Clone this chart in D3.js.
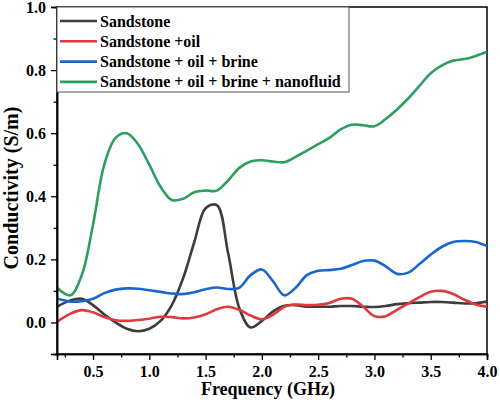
<!DOCTYPE html>
<html>
<head>
<meta charset="utf-8">
<script src="https://cdn.jsdelivr.net/npm/d3@7"></script>
<style>
  html, body { margin: 0; padding: 0; background: #fff; }
  svg { display: block; }
</style>
</head>
<body>
<svg id="chart" width="500" height="403"></svg>
<script>
const frequency = [0.18, 0.3, 0.4, 0.5, 0.6, 0.7, 0.8, 0.9, 1.0, 1.1, 1.2, 1.3, 1.4, 1.5, 1.6, 1.7, 1.8, 1.9, 2.0,
  2.1, 2.2, 2.3, 2.4, 2.5, 2.6, 2.7, 2.8, 2.9, 3.0, 3.1, 3.2, 3.3, 3.4, 3.5, 3.6, 3.7, 3.8, 3.9, 4.0];

const sandstone = [0.05, 0.07, 0.075, 0.055, 0.025, 0.0, -0.02, -0.028, -0.02, 0.005, 0.055, 0.14, 0.255, 0.362, 0.372,
  0.22, 0.045, -0.016, 0.005, 0.035, 0.053, 0.055, 0.05, 0.05, 0.05, 0.052, 0.052, 0.05, 0.049, 0.052, 0.058, 0.061,
  0.063, 0.065, 0.065, 0.063, 0.06, 0.061, 0.066];

const sandstoneOil = [0.002, 0.028, 0.039, 0.032, 0.017, 0.007, 0.005, 0.008, 0.012, 0.018, 0.017, 0.013, 0.016, 0.026,
  0.042, 0.05, 0.04, 0.022, 0.01, 0.025, 0.05, 0.057, 0.055, 0.056, 0.062, 0.075, 0.075, 0.05, 0.02, 0.02, 0.04, 0.06,
  0.08, 0.097, 0.1, 0.09, 0.072, 0.057, 0.05];

const sandstoneOilBrine = [0.076, 0.066, 0.067, 0.075, 0.093, 0.104, 0.108, 0.107, 0.102, 0.097, 0.092, 0.09, 0.096,
  0.105, 0.111, 0.106, 0.11, 0.15, 0.168, 0.13, 0.086, 0.11, 0.15, 0.164, 0.166, 0.17, 0.182, 0.195, 0.196, 0.178,
  0.154, 0.158, 0.185, 0.215, 0.24, 0.255, 0.258, 0.255, 0.242];

const sandstoneOilBrineNano = [0.11, 0.086, 0.15, 0.31, 0.5, 0.585, 0.6, 0.565, 0.5, 0.43, 0.388, 0.392, 0.413, 0.418,
  0.418, 0.45, 0.49, 0.51, 0.514, 0.51, 0.508, 0.525, 0.545, 0.565, 0.585, 0.612, 0.627, 0.625, 0.622, 0.645, 0.675,
  0.71, 0.75, 0.79, 0.815, 0.83, 0.835, 0.845, 0.858];

const seriesNames = ["Sandstone", "Sandstone +oil", "Sandstone + oil + brine", "Sandstone + oil + brine + nanofluid"];
const seriesColors = ["#3d3d3d", "#e0393e", "#1a66cc", "#2e9e5e"];
const seriesValues = [sandstone, sandstoneOil, sandstoneOilBrine, sandstoneOilBrineNano];

const xTicks = [0.5, 1.0, 1.5, 2.0, 2.5, 3.0, 3.5, 4.0];
const xMinorTicks = [0.25, 0.75, 1.25, 1.75, 2.25, 2.75, 3.25, 3.75];
const yTicks = [0.0, 0.2, 0.4, 0.6, 0.8, 1.0];
const yMinorTicks = [-0.1, 0.1, 0.3, 0.5, 0.7, 0.9];

const FONT = "'Liberation Serif', 'Times New Roman', Times, 'DejaVu Serif', serif";

const svg = d3.select("#chart");
const L = 57, R = 487, T = 7, B = 354;

const x = d3.scaleLinear().domain([0.18, 4.0]).range([L, R]);
const y = d3.scaleLinear().domain([-0.1, 1.0]).range([B, T]);

svg.append("rect").attr("x", L).attr("y", T).attr("width", R - L).attr("height", B - T)
  .attr("fill", "none").attr("stroke", "#000").attr("stroke-width", 1.5);

svg.append("clipPath").attr("id", "clip").append("rect")
  .attr("x", L).attr("y", T).attr("width", R - L).attr("height", B - T);

const line = d3.line().x(d => x(d[0])).y(d => y(d[1])).curve(d3.curveCatmullRom.alpha(0.5));
const g = svg.append("g").attr("clip-path", "url(#clip)");
seriesValues.forEach((vals, i) => {
  g.append("path")
    .datum(frequency.map((f, j) => [f, vals[j]]))
    .attr("fill", "none")
    .attr("stroke", seriesColors[i])
    .attr("stroke-width", 2.6)
    .attr("stroke-linejoin", "round")
    .attr("d", line);
});

const xAxis = svg.append("g").attr("transform", `translate(0,${B})`)
  .call(d3.axisBottom(x).tickValues(xTicks).tickFormat(d3.format(".1f")).tickSize(6).tickPadding(6));
const xMinor = svg.append("g").attr("transform", `translate(0,${B})`)
  .call(d3.axisBottom(x).tickValues(xMinorTicks).tickFormat("").tickSize(3.5));
const yAxis = svg.append("g").attr("transform", `translate(${L},0)`)
  .call(d3.axisLeft(y).tickValues(yTicks).tickFormat(d3.format(".1f")).tickSize(6).tickPadding(5));
const yMinor = svg.append("g").attr("transform", `translate(${L},0)`)
  .call(d3.axisLeft(y).tickValues(yMinorTicks).tickFormat("").tickSize(3.5));

[xAxis, xMinor, yAxis, yMinor].forEach(a => {
  a.attr("font-family", null);
  a.select(".domain").attr("stroke", "#000").attr("stroke-width", 1.5);
  a.selectAll(".tick line").attr("stroke", "#000").attr("stroke-width", 1.3);
  a.selectAll("text").style("font-family", FONT).style("font-weight", "bold")
    .style("font-size", "16px").attr("fill", "#000");
});

svg.append("text").attr("x", 268).attr("y", 395).attr("text-anchor", "middle")
  .style("font-family", FONT).style("font-weight", "bold").style("font-size", "18px")
  .text("Frequency (GHz)");
svg.append("text").attr("transform", "translate(18,188) rotate(-90)").attr("text-anchor", "middle")
  .style("font-family", FONT).style("font-weight", "bold").style("font-size", "20px")
  .text("Conductivity (S/m)");

const lg = svg.append("g");
lg.append("rect").attr("x", L).attr("y", T).attr("width", 292).attr("height", 85)
  .attr("fill", "#fff").attr("stroke", "#555").attr("stroke-width", 1);
seriesNames.forEach((name, i) => {
  const cy = 21 + i * 20.3;
  lg.append("line").attr("x1", 60).attr("x2", 97).attr("y1", cy).attr("y2", cy)
    .attr("stroke", seriesColors[i]).attr("stroke-width", 2.6);
  lg.append("text").attr("x", 100).attr("y", cy + 5.5)
    .style("font-family", FONT).style("font-weight", "bold").style("font-size", "16px")
    .text(name);
});
</script>
</body>
</html>
